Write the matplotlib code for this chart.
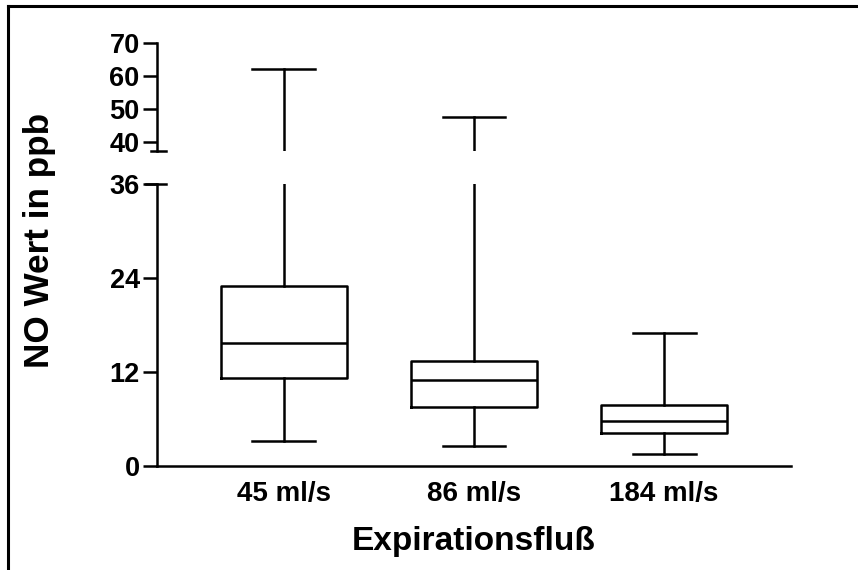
import matplotlib
matplotlib.use("Agg")
import matplotlib.pyplot as plt
from matplotlib.lines import Line2D

plt.rcParams['font.family'] = ['Liberation Sans', 'DejaVu Sans']
plt.rcParams['font.weight'] = 'bold'

# data (ppb)
categories = ["45 ml/s", "86 ml/s", "184 ml/s"]
whis_lo = [3.2, 2.6, 1.5]
q1 = [11.2, 7.5, 4.25]
median = [15.7, 11.0, 5.7]
q3 = [23.0, 13.4, 7.8]
whis_hi = [62.0, 47.6, 17.0]

top_ticks = [40, 50, 60, 70]
bottom_ticks = [0, 12, 24, 36]

stats = []
for i, c in enumerate(categories):
    stats.append(dict(label=c, whislo=whis_lo[i], q1=q1[i], med=median[i],
                      q3=q3[i], whishi=whis_hi[i], fliers=[]))

fig = plt.figure(figsize=(8.58, 5.70), dpi=100)
W, H = 858, 570

def px_axes(left, right, top, bottom):
    return fig.add_axes([left / W, 1 - bottom / H, (right - left) / W, (bottom - top) / H])

ax_top = px_axes(157, 791, 43, 151)
ax_bot = px_axes(157, 791, 184, 466)

lw = 1.8
style = dict(color="black", linewidth=lw)
for ax in (ax_top, ax_bot):
    ax.bxp(stats, positions=[1, 2, 3], widths=0.66, showfliers=False,
           boxprops=style, whiskerprops=style, capprops=style, medianprops=style)
    ax.set_xlim(0.333, 3.667)
    for s in ("top", "right"):
        ax.spines[s].set_visible(False)
    ax.spines["left"].set_linewidth(lw)
    ax.spines["bottom"].set_linewidth(lw)
    ax.tick_params(axis="y", length=10, width=lw, labelsize=19.5, pad=2.5)
    for t in ax.get_yticklabels():
        t.set_fontweight("bold")

ax_top.set_ylim(37.3, 70)
ax_top.set_yticks(top_ticks)
ax_top.spines["bottom"].set_visible(False)
ax_top.set_xticks([])

ax_bot.set_ylim(0, 36)
ax_bot.set_yticks(bottom_ticks)
ax_bot.set_xticks([1, 2, 3])
ax_bot.set_xticklabels(categories, fontsize=20, fontweight="bold")
ax_bot.tick_params(axis="x", length=0, pad=11)

# break marks on the left axis
ax_top.plot([-0.01, 0.014], [0, 0], transform=ax_top.transAxes, color="black",
            lw=lw, clip_on=False)
ax_bot.plot([-0.018, 0.014], [1, 1], transform=ax_bot.transAxes, color="black",
            lw=lw, clip_on=False)

fig.text(474 / W, 1 - 550 / H, "Expirationsfluß", fontsize=24,
         fontweight="bold", ha="center", va="baseline")
fig.text(49 / W, 1 - 240 / H, "NO Wert in ppb", rotation=90, fontsize=25.3,
         fontweight="bold", ha="center", va="baseline", rotation_mode="anchor")

# outer frame (top and left only)
fig.add_artist(Line2D([8 / W, 1], [1 - 6 / H, 1 - 6 / H], color="black", lw=2.2))
fig.add_artist(Line2D([8 / W, 8 / W], [0, 1 - 6 / H], color="black", lw=2.2))

fig.savefig("out.png", dpi=100)
